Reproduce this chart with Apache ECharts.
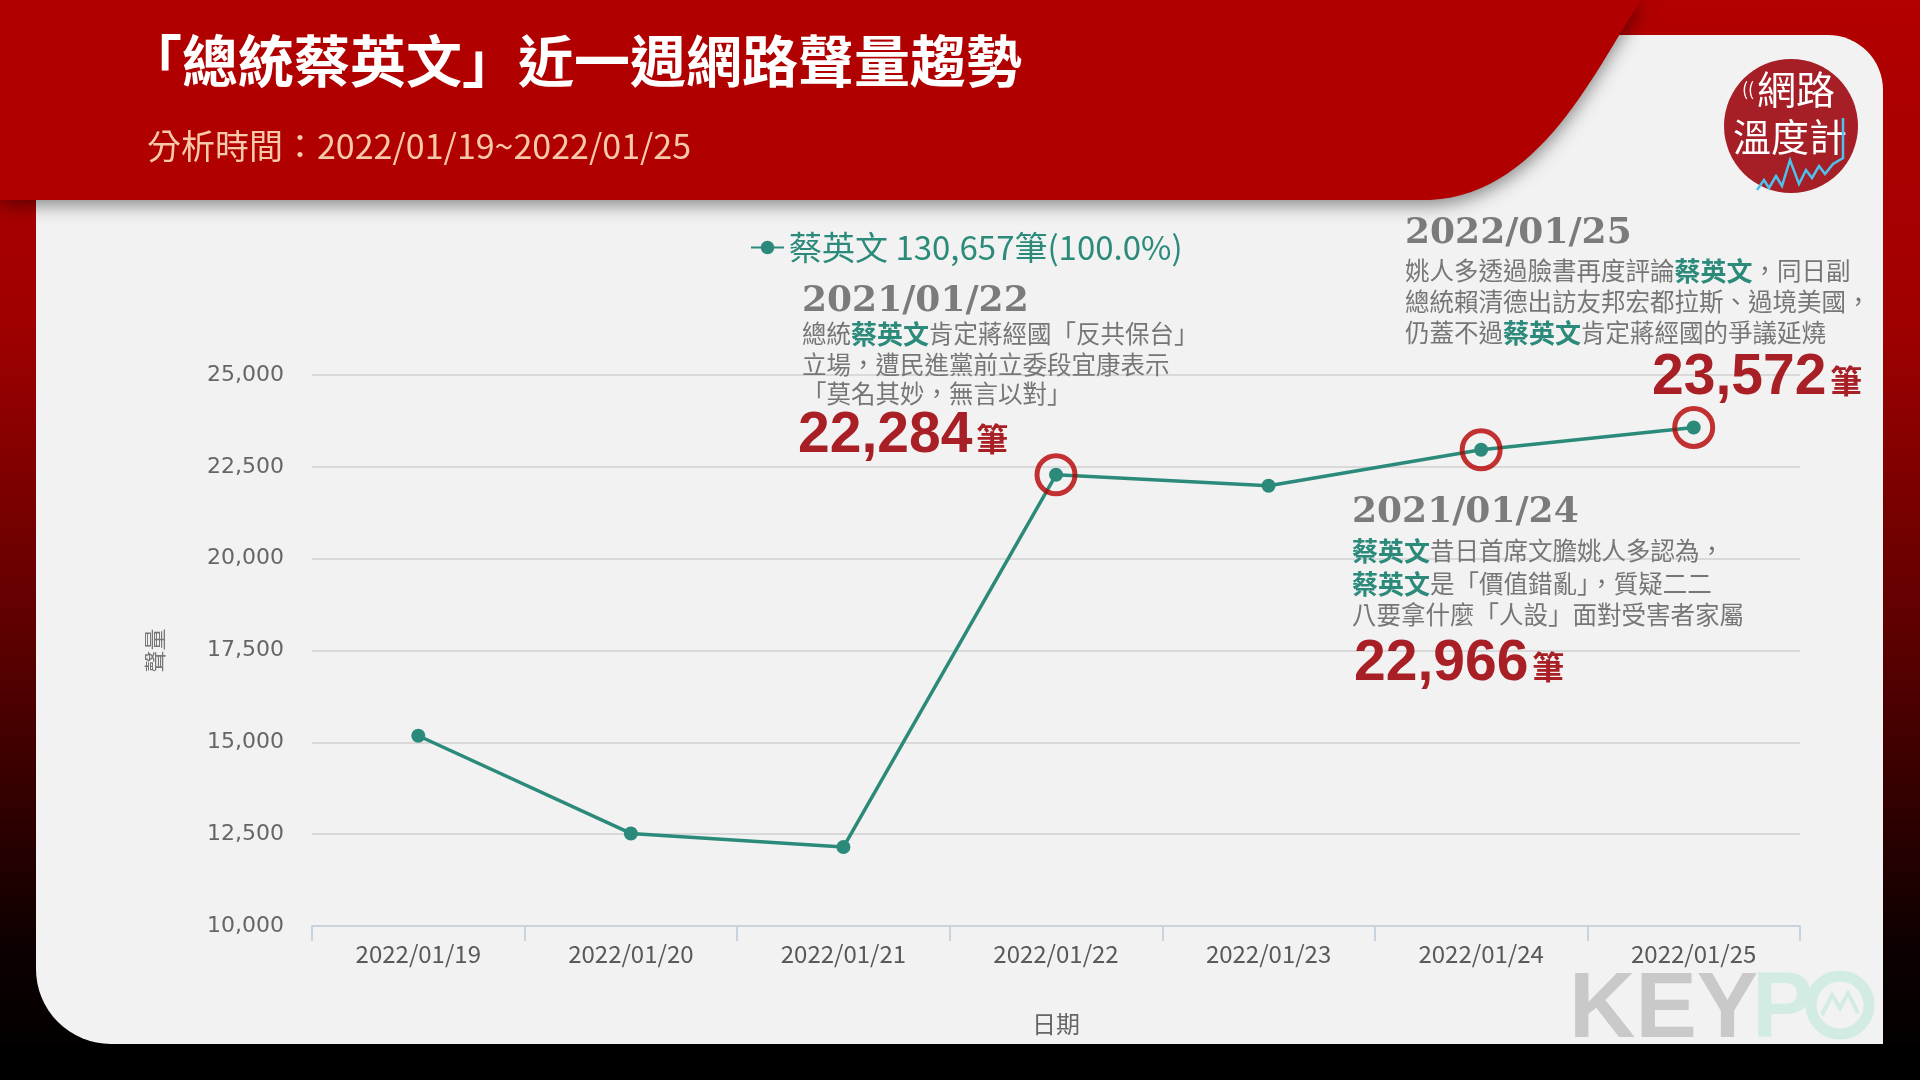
<!DOCTYPE html>
<html>
<head>
<meta charset="utf-8">
<script src="https://cdn.jsdelivr.net/npm/echarts@6/dist/echarts.min.js"></script>
<style>
html,body{margin:0;padding:0;background:#000;}
#chart{width:1920px;height:1080px;}
</style>
</head>
<body>
<div id="chart"></div>
<script>
// ---- data ----
const categories = ['2022/01/19','2022/01/20','2022/01/21','2022/01/22','2022/01/23','2022/01/24','2022/01/25'];
const seriesName = '蔡英文';
const volume = [15180, 12520, 12150, 22284, 21985, 22966, 23572];
const highlighted = [null, null, null, 22284, null, 22966, 23572];
const yMin = 10000, yMax = 25000, yInterval = 2500;
const titleText = '「總統蔡英文」近一週網路聲量趨勢';
const subtitleText = '分析時間：2022/01/19~2022/01/25';
const xName = '日期';
const yName = '聲量';

// annotation texts
const ann1Date = '2021/01/22';
const ann1Lines = [['總統','蔡英文','肯定蔣經國「反共保台」'],['立場，遭民進黨前立委段宜康表示'],['「莫名其妙，無言以對」']];
const ann1Value = '22,284';
const ann2Date = '2022/01/25';
const ann2Lines = [['姚人多透過臉書再度評論','蔡英文','，同日副'],['總統賴清德出訪友邦宏都拉斯、過境美國，'],['仍蓋不過','蔡英文','肯定蔣經國的爭議延燒']];
const ann2Value = '23,572';
const ann3Date = '2021/01/24';
const ann3Lines = [['','蔡英文','昔日首席文膽姚人多認為，'],['','蔡英文','是「價值錯亂」，質疑二二'],['八要拿什麼「人設」面對受害者家屬']];
const ann3Value = '22,966';

const total = volume.reduce((a,b)=>a+b,0);

const TEAL = '#2b8a7a', RED = '#a81f25', GRAY = '#767676';
const CJK = '"Noto Sans CJK TC","Noto Sans CJK SC",sans-serif';

function bodyLine(parts, x, y){
  let t = '';
  parts.forEach((p,i)=>{ if(!p) return; t += (i%2===1 ? '{t|'+p+'}' : '{g|'+p+'}'); });
  return {type:'text', x:x, y:y, z:10, style:{text:t, verticalAlign:'middle', align:'left',
    rich:{ g:{fontSize:24.5, fontFamily:CJK, fill:GRAY},
           t:{fontSize:26, fontFamily:CJK, fontWeight:'bold', fill:TEAL} } }};
}
function dateText(s, x, y){
  return {type:'text', x:x, y:y, z:10, style:{text:s, fill:'#7b7b7b', font:'bold 36px "DejaVu Serif"', verticalAlign:'middle', align:'left'}};
}
function valueText(s, x, y){
  return {type:'text', x:x, y:y, z:10, style:{text:'{n|'+s+'}{u|筆}', verticalAlign:'middle', align:'left',
    rich:{ n:{fontSize:57, fontWeight:'bold', fontFamily:'"Liberation Sans",Arial,sans-serif', fill:RED, lineHeight:60, verticalAlign:'bottom'},
           u:{fontSize:32, fontWeight:'bold', fontFamily:CJK, fill:RED, lineHeight:40, verticalAlign:'bottom', padding:[0,0,10,4]} } }};
}
function block(date, lines, value, x, yDate, yLines, xv, yv){
  const els = [dateText(date, x, yDate)];
  lines.forEach((l,i)=>els.push(bodyLine(l, x, yLines[i])));
  els.push(valueText(value, xv, yv));
  return els;
}
// header outline (decorative shape, cubic curve sampled)
function headerPoints(){
  const p0=[1641,0], p1=[1595,70], p2=[1540,195], p3=[1430,200];
  const pts=[[0,0],[1641,0]];
  for(let i=1;i<=30;i++){
    const t=i/30, u=1-t;
    pts.push([u*u*u*p0[0]+3*u*u*t*p1[0]+3*u*t*t*p2[0]+t*t*t*p3[0],
              u*u*u*p0[1]+3*u*u*t*p1[1]+3*u*t*t*p2[1]+t*t*t*p3[1]]);
  }
  pts.push([0,200]);
  return pts;
}

const LG = echarts.graphic.LinearGradient;

const graphics = [
  {type:'rect', z:-20, shape:{x:0,y:0,width:1920,height:1080},
   style:{fill:new LG(0,0,0,1,[{offset:0,color:'#b30000'},{offset:0.3,color:'#a00000'},{offset:0.6,color:'#5a0000'},{offset:0.88,color:'#0c0000'},{offset:1,color:'#000000'}])}},
  {type:'rect', z:-19, shape:{x:0,y:1044,width:1920,height:36}, style:{fill:'#000'}},
  {type:'rect', z:-18, shape:{x:36,y:35,width:1847,height:1009,r:[0,55,0,75]}, style:{fill:'#f2f2f2'}},
  {type:'polygon', z:-17, shape:{points:headerPoints()},
   style:{fill:'#b00000', shadowColor:'rgba(0,0,0,0.45)', shadowBlur:18, shadowOffsetY:5}},
  {type:'text', x:126, y:61, z:10, style:{text:titleText, fill:'#ffffff', font:'bold 56px '+CJK, verticalAlign:'middle'}},
  {type:'text', x:147, y:146, z:10, style:{text:subtitleText, fill:'#f8c8aa', font:'34px '+CJK, verticalAlign:'middle'}},
  {type:'circle', z:5, shape:{cx:1791, cy:126, r:67}, style:{fill:'#a61f27'}},
  {type:'text', x:1796, y:89, z:6, style:{text:'網路', fill:'#fff', font:'39px '+CJK, align:'center', verticalAlign:'middle'}},
  {type:'text', x:1748, y:89, z:6, style:{text:'((', fill:'#fff', font:'18px '+CJK, align:'center', verticalAlign:'middle'}},
  {type:'text', x:1790, y:137, z:6, style:{text:'溫度計', fill:'#fff', font:'38px '+CJK, align:'center', verticalAlign:'middle'}},
  {type:'polyline', z:7, shape:{points:[[1757,190],[1764,180],[1769,188],[1776,176],[1782,186],[1790,160],[1799,184],[1806,170],[1812,178],[1819,166],[1825,174],[1833,164],[1843,158],[1843,118]]},
   style:{stroke:'#4cc3ef', lineWidth:2.5, fill:null}},
  {type:'text', x:1569, y:1058, z:1, style:{text:'KEY', fill:'#c9c9c9', font:'bold 92px "Liberation Sans",Arial,sans-serif', verticalAlign:'bottom'}},
  {type:'text', x:1752, y:1058, z:1, style:{text:'P', fill:'#d2ece4', font:'bold 92px "Liberation Sans",Arial,sans-serif', verticalAlign:'bottom'}},
  {type:'circle', z:1, shape:{cx:1840, cy:1005, r:29}, style:{fill:null, stroke:'#d2ece4', lineWidth:11}},
  {type:'polyline', z:1, shape:{points:[[1822,1015],[1832,995],[1840,1008],[1848,993],[1858,1013]]}, style:{stroke:'#d2ece4', lineWidth:4, fill:null}}
].concat(
  block(ann1Date, ann1Lines, ann1Value, 802, 302, [334,365,394], 798, 435),
  block(ann2Date, ann2Lines, ann2Value, 1405, 234, [271,302,333], 1652, 377),
  block(ann3Date, ann3Lines, ann3Value, 1352, 513, [551,584,615], 1354, 663)
);

const chart = echarts.init(document.getElementById('chart'), null, {width:1920, height:1080});
chart.setOption({
  animation:false,
  backgroundColor:'transparent',
  graphic:{elements:graphics},
  legend:{
    data:[seriesName], left:745, top:226, itemWidth:33, itemHeight:17,
    formatter: n => n + ' ' + total.toLocaleString('en-US') + '筆(100.0%)',
    textStyle:{color:TEAL, fontSize:33, fontFamily:CJK}
  },
  grid:{left:312, right:120, top:375, bottom:154, containLabel:false},
  xAxis:{
    type:'category', data:categories, boundaryGap:true,
    name:xName, nameLocation:'middle', nameGap:86,
    nameTextStyle:{color:'#666', fontSize:24, fontFamily:CJK},
    axisLine:{lineStyle:{color:'#c8d3de', width:2}},
    axisTick:{show:true, length:15, lineStyle:{color:'#c8d3de', width:2}},
    axisLabel:{color:'#595959', fontSize:24, fontFamily:CJK, margin:16}
  },
  yAxis:{
    type:'value', min:yMin, max:yMax, interval:yInterval,
    name:yName, nameLocation:'middle', nameRotate:90, nameGap:146,
    nameTextStyle:{color:'#777', fontSize:22, fontFamily:CJK},
    axisLine:{show:false}, axisTick:{show:false},
    axisLabel:{color:'#666', fontSize:22, fontFamily:'"DejaVu Sans",sans-serif', margin:28,
      formatter: v => v.toLocaleString('en-US')},
    splitLine:{lineStyle:{color:'#d9d9d9', width:2}}
  },
  series:[
    {name:seriesName, type:'line', data:volume, symbol:'circle', symbolSize:14, z:3,
     itemStyle:{color:TEAL}, lineStyle:{color:TEAL, width:3.5}},
    {name:'highlight', type:'scatter', data:highlighted, symbol:'circle', symbolSize:38, z:4, silent:true,
     itemStyle:{color:'rgba(0,0,0,0)', borderColor:'#b50000', borderWidth:5}}
  ]
});
</script>
</body>
</html>
